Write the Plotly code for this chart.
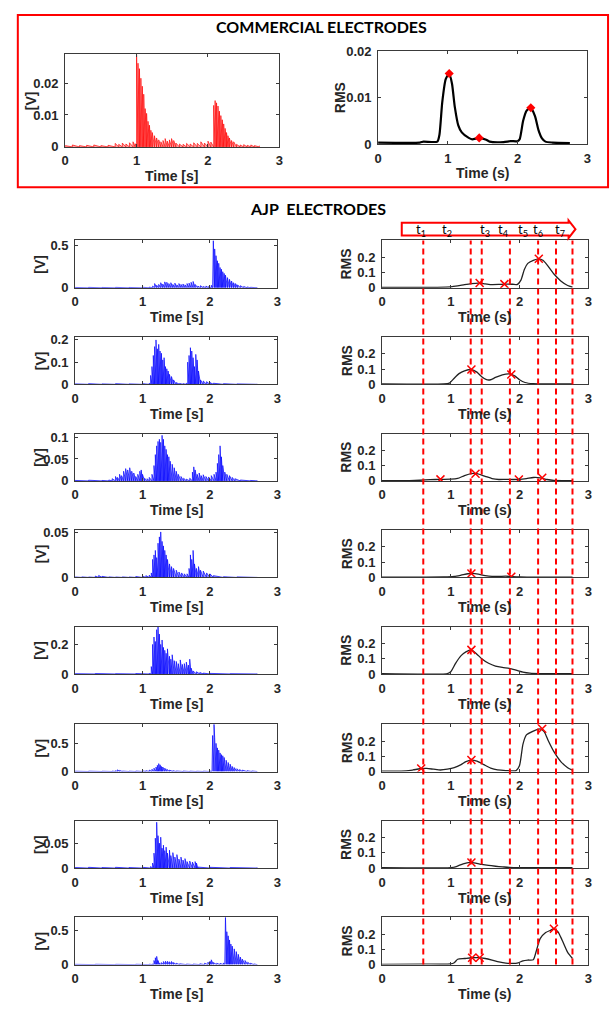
import plotly.graph_objects as go

# ---------------- DATA ----------------
x_ticks = [0, 1, 2, 3]

# Commercial electrodes: raw signal peaks (time s, V) and RMS envelope
c_raw = [(0.00,0.0004),(0.10,0.0006),(0.20,0.0004),(0.30,0.0005),(0.40,0.0006),(0.50,0.0004),(0.60,0.0005),
         (0.70,0.0011),(0.75,0.0008),(0.80,0.0012),(0.85,0.0009),(0.90,0.0013),(0.95,0.0016),(0.98,0.0010),
         (1.00,0.0290),(1.02,0.0262),(1.04,0.0245),(1.06,0.0215),(1.08,0.0190),(1.10,0.0165),(1.12,0.0120),
         (1.14,0.0105),(1.16,0.0080),(1.18,0.0068),(1.20,0.0052),(1.22,0.0045),(1.25,0.0035),(1.28,0.0028),
         (1.31,0.0022),(1.34,0.0016),(1.37,0.0020),(1.40,0.0026),(1.43,0.0018),(1.46,0.0022),(1.49,0.0026),
         (1.52,0.0020),(1.55,0.0012),(1.60,0.0009),(1.65,0.0008),(1.70,0.0011),(1.75,0.0009),(1.80,0.0013),
         (1.85,0.0011),(1.90,0.0016),(1.95,0.0012),(2.00,0.0018),(2.04,0.0015),(2.08,0.0130),(2.10,0.0145),
         (2.12,0.0138),(2.14,0.0128),(2.16,0.0112),(2.18,0.0098),(2.20,0.0085),(2.22,0.0072),(2.24,0.0058),
         (2.26,0.0045),(2.28,0.0035),(2.30,0.0028),(2.33,0.0020),(2.36,0.0016),(2.40,0.0008),(2.45,0.0006),
         (2.50,0.0007),(2.55,0.0005),(2.60,0.0006),(2.65,0.0004),(2.72,0.0004)]
c_rms = [(0,0.0003),(0.6,0.0003),(0.65,0.0005),(0.85,0.0005),(0.88,0.002),(0.92,0.009),(0.97,0.014),
         (1.02,0.0152),(1.06,0.013),(1.1,0.008),(1.15,0.004),(1.2,0.0025),(1.3,0.0013),(1.35,0.001),
         (1.45,0.0013),(1.55,0.0009),(1.6,0.0005),(1.8,0.0004),(1.9,0.0006),(2.0,0.0006),(2.03,0.001),
         (2.08,0.005),(2.13,0.0072),(2.19,0.0078),(2.25,0.006),(2.3,0.003),(2.35,0.0012),(2.4,0.0005),
         (2.5,0.0003),(2.75,0.0002)]
c_peaks = [(1.02,0.0152),(1.45,0.0013),(2.19,0.0078)]

# AJP electrodes: 8 channels
a1_raw = [(0.0,0.004),(0.2,0.005),(0.4,0.004),(0.6,0.005),(0.8,0.004),(1.0,0.006),(1.1,0.008),(1.15,0.020),
          (1.18,0.050),(1.21,0.030),(1.24,0.040),(1.27,0.060),(1.30,0.045),(1.33,0.070),(1.36,0.065),(1.39,0.050),
          (1.42,0.060),(1.45,0.040),(1.48,0.055),(1.51,0.035),(1.54,0.050),(1.57,0.040),(1.60,0.045),(1.63,0.035),
          (1.66,0.050),(1.69,0.055),(1.72,0.065),(1.75,0.075),(1.78,0.040),(1.82,0.020),(1.86,0.025),(1.90,0.015),
          (1.94,0.020),(1.98,0.015),(2.02,0.030),(2.04,0.300),(2.05,0.560),(2.07,0.460),(2.09,0.380),(2.11,0.320),
          (2.13,0.290),(2.15,0.240),(2.17,0.220),(2.19,0.190),(2.21,0.170),(2.23,0.150),(2.26,0.120),(2.29,0.100),
          (2.32,0.080),(2.35,0.060),(2.38,0.050),(2.41,0.035),(2.45,0.025),(2.50,0.015),(2.55,0.010),(2.60,0.006),
          (2.70,0.004)]
a1_rms = [(0,0.002),(0.5,0.002),(0.8,0.003),(1.0,0.006),(1.1,0.012),(1.2,0.020),(1.3,0.027),(1.4,0.031),
          (1.5,0.026),(1.6,0.021),(1.7,0.022),(1.8,0.024),(1.9,0.023),(1.97,0.022),(2.02,0.05),(2.07,0.12),
          (2.12,0.16),(2.2,0.18),(2.28,0.19),(2.34,0.18),(2.4,0.15),(2.5,0.09),(2.6,0.045),(2.7,0.015),(2.77,0.005)]
a1_pk = [(1.42,0.031),(1.78,0.024),(2.28,0.19)]

a2_raw = [(0.0,0.002),(0.2,0.003),(0.4,0.002),(0.6,0.003),(0.8,0.002),(1.0,0.003),(1.1,0.005),(1.12,0.040),
          (1.14,0.080),(1.16,0.130),(1.18,0.170),(1.20,0.200),(1.22,0.160),(1.24,0.180),(1.26,0.150),(1.28,0.140),
          (1.30,0.110),(1.32,0.120),(1.34,0.080),(1.36,0.070),(1.38,0.060),(1.40,0.045),(1.43,0.035),(1.46,0.020),
          (1.50,0.008),(1.55,0.004),(1.60,0.003),(1.65,0.005),(1.67,0.100),(1.69,0.130),(1.71,0.165),(1.73,0.150),
          (1.75,0.120),(1.77,0.080),(1.79,0.135),(1.81,0.110),(1.83,0.060),(1.86,0.020),(1.90,0.015),(1.95,0.012),
          (2.00,0.008),(2.05,0.005),(2.2,0.003),(2.4,0.002),(2.7,0.002)]
a2_rms = [(0,0.002),(0.9,0.002),(0.98,0.008),(1.05,0.04),(1.12,0.07),(1.2,0.088),(1.3,0.097),(1.38,0.08),
          (1.45,0.05),(1.52,0.03),(1.58,0.03),(1.65,0.045),(1.75,0.062),(1.85,0.068),(1.93,0.055),(2.0,0.03),
          (2.08,0.012),(2.2,0.004),(2.4,0.002),(2.77,0.002)]
a2_pk = [(1.30,0.097),(1.88,0.065)]

a3_raw = [(0.0,0.001),(0.2,0.0015),(0.4,0.001),(0.5,0.002),(0.55,0.005),(0.60,0.010),(0.63,0.008),(0.66,0.015),
          (0.69,0.012),(0.72,0.022),(0.75,0.028),(0.78,0.025),(0.81,0.030),(0.84,0.022),(0.87,0.018),(0.90,0.010),
          (0.93,0.015),(0.96,0.022),(0.98,0.025),(1.00,0.015),(1.03,0.006),(1.07,0.005),(1.10,0.008),(1.14,0.015),
          (1.17,0.035),(1.19,0.060),(1.21,0.080),(1.23,0.090),(1.25,0.095),(1.27,0.088),(1.29,0.104),(1.31,0.095),
          (1.33,0.080),(1.35,0.072),(1.37,0.060),(1.39,0.055),(1.41,0.045),(1.44,0.038),(1.47,0.030),(1.50,0.022),
          (1.53,0.015),(1.57,0.010),(1.61,0.006),(1.65,0.004),(1.70,0.006),(1.74,0.020),(1.76,0.032),(1.78,0.025),
          (1.81,0.015),(1.84,0.018),(1.87,0.012),(1.90,0.014),(1.94,0.010),(1.98,0.009),(2.02,0.012),(2.06,0.015),
          (2.09,0.020),(2.11,0.040),(2.13,0.060),(2.15,0.080),(2.17,0.055),(2.19,0.035),(2.22,0.020),(2.25,0.015),
          (2.29,0.012),(2.33,0.008),(2.37,0.005),(2.45,0.002),(2.6,0.001),(2.7,0.001)]
a3_rms = [(0,0.002),(0.4,0.002),(0.55,0.004),(0.7,0.008),(0.85,0.01),(1.0,0.011),(1.1,0.016),(1.2,0.035),
          (1.3,0.048),(1.38,0.047),(1.5,0.03),(1.6,0.015),(1.7,0.009),(1.8,0.01),(1.9,0.009),(2.0,0.01),
          (2.1,0.015),(2.2,0.022),(2.3,0.02),(2.4,0.009),(2.5,0.003),(2.77,0.002)]
a3_pk = [(0.85,0.01),(1.36,0.047),(1.99,0.009),(2.33,0.02)]

a4_raw = [(0.0,0.0005),(0.1,0.0006),(0.2,0.0005),(0.3,0.0015),(0.35,0.0022),(0.4,0.0012),(0.5,0.0006),
          (0.6,0.0005),(0.7,0.0006),(0.8,0.0005),(0.9,0.0010),(1.0,0.0015),(1.05,0.0020),(1.10,0.0025),
          (1.13,0.0050),(1.15,0.0200),(1.17,0.0250),(1.19,0.0300),(1.21,0.0220),(1.23,0.0380),(1.25,0.0450),
          (1.27,0.0505),(1.29,0.0400),(1.31,0.0350),(1.33,0.0300),(1.35,0.0250),(1.37,0.0200),(1.40,0.0150),
          (1.43,0.0120),(1.46,0.0100),(1.50,0.0080),(1.54,0.0060),(1.58,0.0050),(1.62,0.0040),(1.66,0.0040),
          (1.69,0.0100),(1.71,0.0250),(1.73,0.0200),(1.75,0.0300),(1.77,0.0150),(1.80,0.0100),(1.83,0.0120),
          (1.86,0.0080),(1.90,0.0070),(1.95,0.0050),(2.00,0.0040),(2.05,0.0020),(2.2,0.0008),(2.4,0.0006),
          (2.7,0.0005)]
a4_rms = [(0,0.002),(0.9,0.003),(1.05,0.007),(1.15,0.015),(1.25,0.024),(1.32,0.026),(1.4,0.021),(1.5,0.012),
          (1.6,0.007),(1.7,0.007),(1.8,0.008),(1.9,0.005),(2.0,0.003),(2.2,0.002),(2.77,0.002)]
a4_pk = [(1.30,0.026),(1.88,0.005)]

a5_raw = [(0.0,0.002),(0.3,0.003),(0.6,0.002),(0.9,0.003),(1.1,0.004),(1.13,0.050),(1.15,0.200),(1.17,0.250),
          (1.19,0.220),(1.21,0.300),(1.23,0.320),(1.25,0.270),(1.27,0.200),(1.29,0.230),(1.31,0.180),(1.33,0.160),
          (1.35,0.140),(1.37,0.170),(1.40,0.120),(1.42,0.100),(1.44,0.130),(1.47,0.090),(1.50,0.085),(1.53,0.070),
          (1.56,0.095),(1.59,0.065),(1.62,0.070),(1.65,0.080),(1.68,0.060),(1.70,0.100),(1.72,0.040),(1.75,0.020),
          (1.80,0.015),(1.85,0.010),(1.90,0.006),(2.0,0.004),(2.3,0.002),(2.7,0.002)]
a5_rms = [(0,0.002),(0.95,0.003),(1.0,0.015),(1.07,0.07),(1.15,0.12),(1.22,0.145),(1.3,0.158),(1.38,0.13),
          (1.45,0.1),(1.55,0.07),(1.65,0.052),(1.75,0.043),(1.85,0.037),(1.95,0.025),(2.05,0.012),(2.15,0.005),
          (2.3,0.002),(2.77,0.002)]
a5_pk = [(1.30,0.158)]

a6_raw = [(0.0,0.005),(0.2,0.006),(0.4,0.005),(0.55,0.008),(0.60,0.015),(0.63,0.030),(0.66,0.020),(0.70,0.008),
          (0.8,0.006),(0.9,0.008),(1.0,0.012),(1.05,0.015),(1.10,0.025),(1.14,0.040),(1.17,0.060),(1.20,0.080),
          (1.22,0.110),(1.24,0.140),(1.26,0.120),(1.28,0.090),(1.30,0.080),(1.33,0.060),(1.36,0.040),(1.40,0.025),
          (1.45,0.015),(1.5,0.010),(1.6,0.008),(1.7,0.006),(1.8,0.005),(1.9,0.006),(2.0,0.008),(2.03,0.100),
          (2.04,0.640),(2.06,0.840),(2.07,0.600),(2.09,0.500),(2.11,0.420),(2.13,0.380),(2.15,0.330),(2.17,0.300),
          (2.19,0.280),(2.21,0.250),(2.24,0.200),(2.27,0.160),(2.30,0.130),(2.33,0.090),(2.36,0.070),(2.40,0.050),
          (2.44,0.035),(2.48,0.025),(2.55,0.015),(2.62,0.010),(2.70,0.005)]
a6_rms = [(0,0.002),(0.35,0.004),(0.45,0.01),(0.55,0.018),(0.65,0.02),(0.75,0.015),(0.85,0.01),(0.95,0.015),
          (1.05,0.025),(1.15,0.045),(1.22,0.065),(1.3,0.075),(1.38,0.068),(1.48,0.045),(1.58,0.022),(1.68,0.01),
          (1.8,0.006),(1.95,0.006),(2.0,0.04),(2.05,0.18),(2.1,0.24),(2.2,0.265),(2.3,0.28),(2.36,0.26),
          (2.42,0.2),(2.5,0.13),(2.6,0.065),(2.7,0.025),(2.77,0.008)]
a6_pk = [(0.57,0.02),(1.30,0.075),(2.33,0.28)]

a7_raw = [(0.0,0.001),(0.2,0.0015),(0.4,0.001),(0.6,0.0015),(0.8,0.001),(1.0,0.0015),(1.12,0.003),(1.15,0.010),
          (1.17,0.030),(1.19,0.060),(1.21,0.092),(1.23,0.065),(1.25,0.050),(1.27,0.062),(1.29,0.040),(1.31,0.046),
          (1.33,0.035),(1.35,0.042),(1.37,0.030),(1.40,0.036),(1.42,0.025),(1.45,0.031),(1.48,0.022),(1.51,0.027),
          (1.54,0.018),(1.57,0.022),(1.60,0.016),(1.63,0.019),(1.66,0.013),(1.70,0.014),(1.74,0.012),(1.78,0.013),
          (1.80,0.010),(1.82,0.002),(2.0,0.0015),(2.3,0.001),(2.7,0.001)]
a7_rms = [(0,0.002),(1.0,0.003),(1.08,0.01),(1.18,0.028),(1.28,0.037),(1.36,0.033),(1.45,0.024),(1.55,0.017),
          (1.65,0.012),(1.75,0.008),(1.85,0.004),(2.0,0.002),(2.77,0.002)]
a7_pk = [(1.30,0.036)]

a8_raw = [(0.0,0.004),(0.3,0.005),(0.6,0.004),(0.9,0.005),(1.1,0.006),(1.15,0.010),(1.17,0.060),(1.19,0.100),
          (1.21,0.120),(1.23,0.060),(1.25,0.020),(1.28,0.030),(1.31,0.045),(1.34,0.050),(1.37,0.048),(1.40,0.042),
          (1.43,0.046),(1.46,0.030),(1.50,0.020),(1.55,0.012),(1.65,0.008),(1.75,0.008),(1.85,0.012),(1.92,0.020),
          (1.97,0.035),(2.00,0.050),(2.02,0.070),(2.05,0.030),(2.10,0.020),(2.15,0.018),(2.20,0.025),(2.22,0.350),
          (2.23,0.690),(2.25,0.480),(2.27,0.420),(2.29,0.360),(2.31,0.300),(2.33,0.270),(2.36,0.230),(2.39,0.190),
          (2.42,0.150),(2.45,0.110),(2.48,0.080),(2.52,0.060),(2.56,0.035),(2.60,0.020),(2.65,0.010),(2.70,0.005)]
a8_rms = [(0,0.002),(0.6,0.003),(1.0,0.004),(1.05,0.012),(1.1,0.035),(1.2,0.04),(1.3,0.045),(1.4,0.046),
          (1.5,0.04),(1.6,0.03),(1.7,0.018),(1.8,0.01),(1.9,0.008),(1.98,0.012),(2.05,0.025),(2.12,0.03),
          (2.2,0.032),(2.25,0.1),(2.3,0.17),(2.38,0.21),(2.45,0.225),(2.5,0.235),(2.56,0.215),(2.62,0.16),
          (2.7,0.08),(2.77,0.04)]
a8_pk = [(1.31,0.045),(1.42,0.045),(2.50,0.235)]

ajp_raw = [a1_raw, a2_raw, a3_raw, a4_raw, a5_raw, a6_raw, a7_raw, a8_raw]
ajp_rms = [a1_rms, a2_rms, a3_rms, a4_rms, a5_rms, a6_rms, a7_rms, a8_rms]
ajp_pk = [a1_pk, a2_pk, a3_pk, a4_pk, a5_pk, a6_pk, a7_pk, a8_pk]
ajp_raw_ymax = [0.56, 0.213, 0.108, 0.0525, 0.32, 0.84, 0.095, 0.69]
ajp_raw_yticks = [[0, 0.5], [0, 0.1, 0.2], [0, 0.05, 0.1], [0, 0.05], [0, 0.2], [0, 0.5], [0, 0.05], [0, 0.5]]
rms_yticks = [0, 0.1, 0.2]
rms_ymax = 0.31

# event times (s) marked by dashed lines and labels
t_events = [0.60, 1.29, 1.45, 1.86, 2.27, 2.53, 2.77]
t_labels = ["t<sub>1</sub>", "t<sub>2</sub>", "t<sub>3</sub>", "t<sub>4</sub>", "t<sub>5</sub>", "t<sub>6</sub>", "t<sub>7</sub>"]
t_label_px = [423, 449, 487, 506, 526, 541, 563]

# ---------------- LAYOUT HELPERS ----------------
W, H = 615, 1013
def fx(p): return p / W
def fy(p): return 1 - p / H

TICKFONT = dict(family="Liberation Sans, Arial", size=13, color="#262626", weight="bold")
LBLFONT = dict(family="Liberation Sans, Arial", size=14, color="#262626", weight="bold")

fig = go.Figure()
layout = dict(width=W, height=H, margin=dict(l=0, r=0, t=0, b=0), paper_bgcolor="white",
              plot_bgcolor="white", showlegend=False)
annotations = []
shapes = []

def aid(k):
    return "" if k == 1 else str(k)

def fmt(v):
    return "%g" % v

def add_axes(k, xpx, ypx, ymax, yticks):
    common = dict(showline=True, linecolor="#3a3a3a", linewidth=1, mirror="ticks", ticks="inside",
                  ticklen=3, tickcolor="#3a3a3a", showgrid=False, zeroline=False, tickfont=TICKFONT)
    layout["xaxis" + aid(k)] = dict(domain=[fx(xpx[0]), fx(xpx[1])], anchor="y" + aid(k), range=[0, 3],
                                   tickvals=x_ticks, ticktext=[str(v) for v in x_ticks],
                                   ticklabelstandoff=2, **common)
    layout["yaxis" + aid(k)] = dict(domain=[fy(ypx[1]), fy(ypx[0])], anchor="x" + aid(k), range=[0, ymax],
                                   tickvals=yticks, ticktext=[fmt(v) for v in yticks],
                                   ticklabelstandoff=3, **common)

def spike_trace(k, pairs, color, fillcolor):
    xs, ys = [], []
    for t, v in pairs:
        xs += [t, t]
        ys += [0, v]
    return go.Scatter(x=xs, y=ys, mode="lines", line=dict(color=color, width=0.7), fill="tozeroy",
                      fillcolor=fillcolor, xaxis="x" + aid(k), yaxis="y" + aid(k), hoverinfo="skip")

def line_trace(k, pairs, width, color):
    return go.Scatter(x=[p[0] for p in pairs], y=[p[1] for p in pairs], mode="lines",
                      line=dict(color=color, width=width, shape="spline", smoothing=0.6),
                      xaxis="x" + aid(k), yaxis="y" + aid(k), hoverinfo="skip")

def label(text, x, y, angle=0, font=LBLFONT):
    annotations.append(dict(text=text, x=fx(x), y=fy(y), xref="paper", yref="paper", showarrow=False,
                            textangle=angle, font=font, xanchor="center", yanchor="middle"))

# ---------------- COMMERCIAL ----------------
add_axes(1, (62, 279), (48, 142), 0.029, [0, 0.01, 0.02])
add_axes(2, (379, 591), (45, 139), 0.02, [0, 0.01, 0.02])
fig.add_trace(spike_trace(1, c_raw, "rgb(255,0,0)", "rgba(255,60,60,0.45)"))
fig.add_trace(line_trace(2, c_rms, 2.2, "black"))
fig.add_trace(go.Scatter(x=[p[0] for p in c_peaks], y=[p[1] for p in c_peaks], mode="markers",
                         marker=dict(symbol="diamond", size=7, color="red"), xaxis="x2", yaxis="y2",
                         hoverinfo="skip"))
label("[V]", 27, 95, -90)
label("RMS", 340, 92, -90)
label("Time [s]", 170, 172)
label("Time (s)", 485, 168)
label("COMMERCIAL ELECTRODES", 322, 20, font=dict(family="Lato", size=16, color="black", weight="bold"))
shapes.append(dict(type="rect", xref="paper", yref="paper", x0=fx(14), x1=fx(612), y0=fy(183), y1=fy(8),
                   line=dict(color="red", width=2)))

# ---------------- AJP ----------------
label("AJP\u00a0\u00a0ELECTRODES", 318, 205, font=dict(family="Lato", size=16, color="black", weight="bold"))
row_tops = [237, 335, 433, 531, 629, 728, 826, 924]
for i in range(8):
    top = row_tops[i]
    bot = top + 48
    kl, kr = 3 + 2 * i, 4 + 2 * i
    add_axes(kl, (72, 277), (top, bot), ajp_raw_ymax[i], ajp_raw_yticks[i])
    add_axes(kr, (383, 592), (top, bot), rms_ymax, rms_yticks)
    fig.add_trace(spike_trace(kl, ajp_raw[i], "rgb(0,0,255)", "rgba(40,40,255,0.5)"))
    fig.add_trace(line_trace(kr, ajp_rms[i], 1.3, "#222222"))
    pk = ajp_pk[i]
    fig.add_trace(go.Scatter(x=[p[0] for p in pk], y=[p[1] for p in pk], mode="markers",
                             marker=dict(symbol="x-thin", size=8, color="red", line=dict(color="red", width=1.5)),
                             xaxis="x" + aid(kr), yaxis="y" + aid(kr), hoverinfo="skip"))
    label("[V]", 37, top + 24, -90)
    label("RMS", 347, top + 24, -90)
    label("Time [s]", 175, bot + 30)
    label("Time (s)", 487, bot + 30)

# dashed event lines spanning all AJP RMS panels
for t in t_events:
    shapes.append(dict(type="line", xref="x4", yref="paper", x0=t, x1=t, y0=fy(972), y1=fy(237),
                       line=dict(color="red", width=2, dash="6px,4px"), layer="above"))

# arrow with labels
ax = [403, 572, 572, 579, 572, 572, 403]
ay = [219, 219, 216.5, 225.5, 234.5, 232, 232]
path = "M " + " L ".join("%.5f,%.5f" % (fx(a), fy(b)) for a, b in zip(ax, ay)) + " Z"
shapes.append(dict(type="path", xref="paper", yref="paper", path=path, line=dict(color="red", width=2),
                   fillcolor="rgba(0,0,0,0)"))
for txt, px in zip(t_labels, t_label_px):
    label(txt, px, 226, font=dict(family="Lato", size=13, color="black"))

layout["annotations"] = annotations
layout["shapes"] = shapes
fig.update_layout(**layout)
fig.write_html("out.html")
